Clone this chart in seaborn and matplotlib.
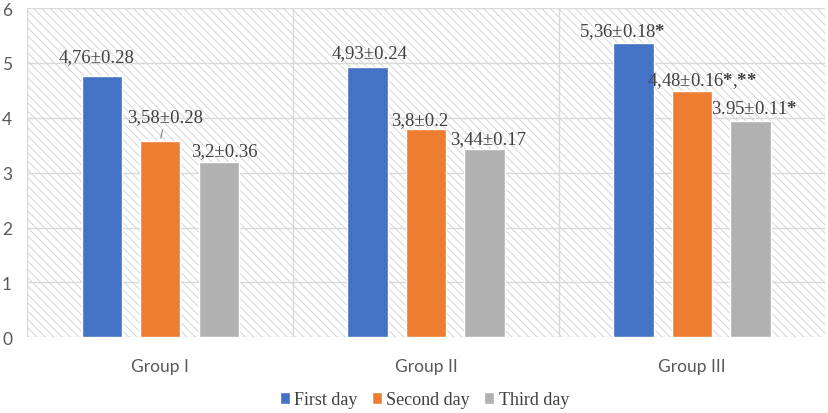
import matplotlib
matplotlib.use("Agg")
import matplotlib.pyplot as plt
from matplotlib.patches import Rectangle
import seaborn as sns
import pandas as pd

# data
groups = ["Group I", "Group II", "Group III"]
days = ["First day", "Second day", "Third day"]
first_day = [4.76, 4.93, 5.36]
second_day = [3.58, 3.8, 4.48]
third_day = [3.2, 3.44, 3.95]
first_labels = ["4,76±0.28", "4,93±0.24", r"5,36±0.18$\mathbf{*}$"]
second_labels = ["3,58±0.28", "3,8±0.2", r"4,48±0.16$\mathbf{*}$,$\mathbf{*}\mathbf{*}$"]
third_labels = ["3,2±0.36", "3,44±0.17", r"3.95±0.11$\mathbf{*}$"]
y_ticks = [0, 1, 2, 3, 4, 5, 6]

df = pd.DataFrame({
    "group": groups * 3,
    "day": [d for d in days for _ in groups],
    "value": first_day + second_day + third_day,
})
labels = [first_labels, second_labels, third_labels]

colors = ["#4472C4", "#ED7D31", "#B1B1B1"]

sns.set_style("white")
plt.rcParams["font.family"] = ["Lato", "DejaVu Sans"]
plt.rcParams["mathtext.fontset"] = "custom"
plt.rcParams["mathtext.rm"] = "Liberation Serif"
plt.rcParams["mathtext.bf"] = "Liberation Serif:bold"
plt.rcParams["hatch.linewidth"] = 0.6

fig = plt.figure(figsize=(8.29, 4.14), dpi=100)
ax = fig.add_axes([0.033, 0.183, 0.962, 0.795])

# hatched background of the plot area
bg = Rectangle((0, 0), 1, 1, transform=ax.transAxes, facecolor="white",
               edgecolor="#D0D0D0", hatch="\\\\\\\\", linewidth=0, zorder=0)
ax.add_patch(bg)

sns.barplot(data=df, x="group", y="value", hue="day", hue_order=days,
            palette=colors, width=0.66, gap=0.31, ax=ax, zorder=3,
            saturation=1, legend=True)

ax.set_xlim(-0.5, 2.5)
ax.set_ylim(0, 6)
ax.set_yticks(y_ticks)
ax.set_xticks([-0.5, 0.5, 1.5, 2.5], minor=True)
ax.grid(axis="y", color="#D9D9D9", linewidth=1, zorder=1)
ax.grid(axis="x", which="minor", color="#D9D9D9", linewidth=1, zorder=1)
ax.grid(axis="x", which="major", visible=False)
ax.set_axisbelow(True)
for s in ax.spines.values():
    s.set_visible(False)
ax.tick_params(axis="both", which="both", length=0, colors="#595959", labelsize=12.5)
ax.tick_params(axis="y", pad=11)
ax.tick_params(axis="x", pad=15)
ax.set_xlabel("")
ax.set_ylabel("")

# value labels (offsets in pixels, as placed in the original)
offsets = [[(-5, 19), (2, 13), (-11, 11)],
           [(5, 23), (-6, 8), (10, 10)],
           [(6, 10), (3, 9), (4, 11)]]
for k, cont in enumerate(ax.containers):
    for j, bar in enumerate(cont):
        x = bar.get_x() + bar.get_width() / 2
        h = bar.get_height()
        dx, dy = offsets[k][j]
        arrow = None
        if k == 1 and j == 0:
            arrow = dict(arrowstyle="-", color="#7F7F7F", lw=0.8, shrinkA=1, shrinkB=2)
        ax.annotate(labels[k][j], xy=(x, h), xytext=(dx, dy + 1), textcoords="offset pixels",
                    ha="center", va="center", fontsize=13.5, color="#404040",
                    family="Liberation Serif", zorder=5, arrowprops=arrow)

handles, lbls = ax.get_legend_handles_labels()
ax.get_legend().remove()
fig.legend(handles, lbls, loc="center", bbox_to_anchor=(0.512, 0.032), ncol=3,
           frameon=False, handlelength=0.55, handleheight=0.6, handletextpad=0.25,
           columnspacing=0.8, prop={"family": "Liberation Serif", "size": 13},
           labelcolor="#404040")

fig.savefig("out.png", dpi=100)
